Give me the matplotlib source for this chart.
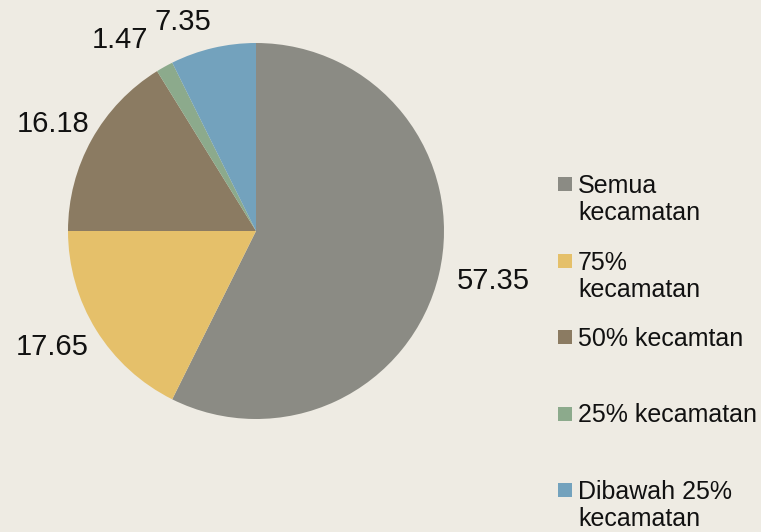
import numpy as np
import matplotlib.pyplot as plt
from matplotlib.patches import Rectangle

# Slice values (percent), clockwise from 12 o'clock
values = [57.35, 17.65, 16.18, 1.47, 7.35]
value_labels = ['57.35', '17.65', '16.18', '1.47', '7.35']
categories = ['Semua\nkecamatan', '75%\nkecamatan', '50% kecamtan',
              '25% kecamatan', 'Dibawah 25%\nkecamatan']
colors = ['#8b8b84', '#e5c06a', '#8b7b62', '#8caa8c', '#73a2bd']

# label placement (distance in radii, angle nudge in degrees)
label_dist = [1.29, 1.245, 1.22, 1.245, 1.18]
label_nudge = [1.3, -2.1, 1.3, 6.4, 6.0]

bg = '#eeebe3'
W, H = 761, 532
plt.rcParams['font.family'] = ['Liberation Sans', 'DejaVu Sans']

fig = plt.figure(figsize=(W / 100, H / 100), dpi=100, facecolor=bg)

# pie: centre (256, 231) px, radius 188 px
cx, cy, r = 256, 231, 188
ax = fig.add_axes([(cx - r) / W, (H - cy - r) / H, 2 * r / W, 2 * r / H])
ax.set_facecolor(bg)
wedges, _ = ax.pie(values, colors=colors, startangle=90, counterclock=False,
                   radius=1, wedgeprops=dict(linewidth=0))
ax.set_xlim(-1, 1)
ax.set_ylim(-1, 1)
ax.set_aspect('equal')
ax.axis('off')

for w, lab, d, nudge in zip(wedges, value_labels, label_dist, label_nudge):
    ang = np.deg2rad((w.theta1 + w.theta2) / 2 + nudge)
    ax.text(d * np.cos(ang), d * np.sin(ang), lab, fontsize=21,
            color='#111111', ha='center', va='center', clip_on=False)

# legend drawn by hand so the swatch lines up with the first text line
first_base = 193
step = 76.5
line_h = 27.5
for i, (cat, c) in enumerate(zip(categories, colors)):
    base = first_base + i * step
    fig.add_artist(Rectangle((558 / W, 1 - (base - 2) / H), 14 / W, 14 / H,
                             transform=fig.transFigure, color=c, lw=0))
    for k, line in enumerate(cat.split('\n')):
        fig.text(578 / W, 1 - (base + k * line_h) / H, line, fontsize=18,
                 color='#111111', ha='left', va='baseline')

fig.savefig('out.png', dpi=100, facecolor=bg)
